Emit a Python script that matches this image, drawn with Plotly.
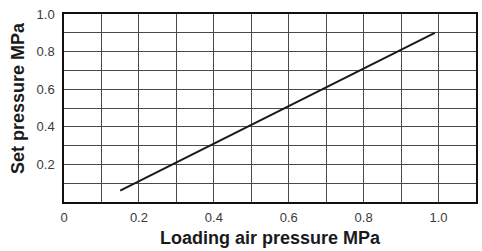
import plotly.graph_objects as go

# Data
loading_air_pressure = [0.15, 0.99]   # MPa
set_pressure = [0.06, 0.90]           # MPa

x_grid_vals = [0, 0.1, 0.2, 0.3, 0.4, 0.5, 0.6, 0.7, 0.8, 0.9, 1.0, 1.1]
x_tick_labels = ["0", "", "0.2", "", "0.4", "", "0.6", "", "0.8", "", "1.0", ""]
y_grid_vals = [0, 0.1, 0.2, 0.3, 0.4, 0.5, 0.6, 0.7, 0.8, 0.9, 1.0]
y_tick_labels = ["", "", "0.2", "", "0.4", "", "0.6", "", "0.8", "", "1.0"]

x_title = "Loading air pressure MPa"
y_title = "Set pressure MPa"

font_family = "Liberation Sans, Arial, Helvetica, sans-serif"

fig = go.Figure()
fig.add_trace(go.Scatter(
    x=loading_air_pressure, y=set_pressure, mode="lines",
    line=dict(color="#1a1a1a", width=2), showlegend=False, hoverinfo="skip"))

fig.update_layout(
    width=482, height=251,
    margin=dict(l=64, r=4, t=14, b=49),
    paper_bgcolor="white", plot_bgcolor="white",
    font=dict(family=font_family, size=13, color="#333333"),
    xaxis=dict(
        range=[0, 1.1], tickmode="array", tickvals=x_grid_vals, ticktext=x_tick_labels,
        showgrid=True, gridcolor="#4a4a4a", gridwidth=1, zeroline=False,
        showline=True, linecolor="#111111", linewidth=1.5, mirror=True,
        ticks="", ticklabelstandoff=3,
        tickfont=dict(size=13, color="#3a3a3a"),
        fixedrange=True,
    ),
    yaxis=dict(
        range=[0, 1.0], tickmode="array", tickvals=y_grid_vals, ticktext=y_tick_labels,
        showgrid=True, gridcolor="#4a4a4a", gridwidth=1, zeroline=False,
        showline=True, linecolor="#111111", linewidth=1.5, mirror=True,
        ticks="", ticklabelstandoff=5,
        tickfont=dict(size=13, color="#3a3a3a"),
        fixedrange=True,
    ),
    annotations=[
        dict(text=y_title, textangle=-90, xref="paper", yref="paper",
             x=-0.113, y=0.555, xanchor="center", yanchor="middle", showarrow=False,
             font=dict(size=18, color="#1a1a1a", family=font_family, weight="bold")),
        dict(text=x_title, xref="paper", yref="paper",
             x=0.5, y=-0.19, xanchor="center", yanchor="middle", showarrow=False,
             font=dict(size=18, color="#1a1a1a", family=font_family, weight="bold")),
    ],
)

fig.write_html("out.html")
